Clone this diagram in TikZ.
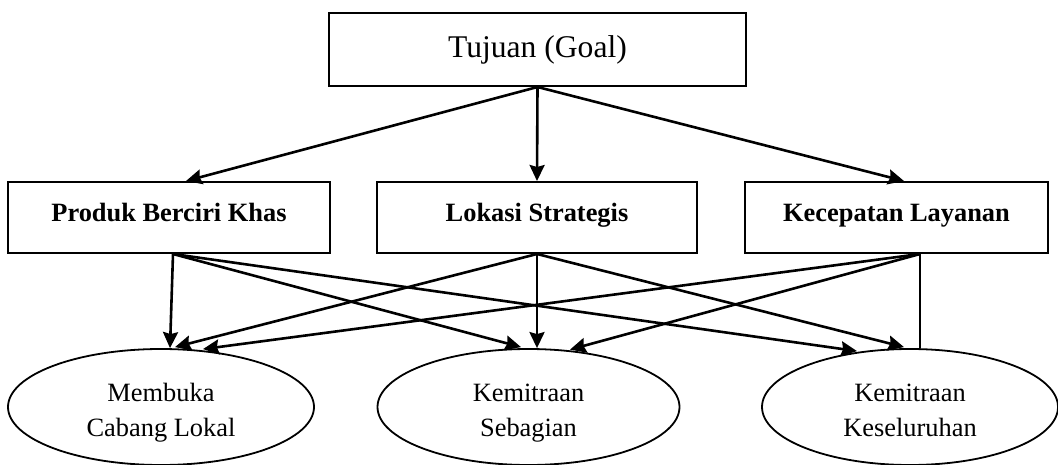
\documentclass[tikz,border=0pt]{standalone}
\usepackage{fontspec}
\setmainfont{Liberation Serif}
\usetikzlibrary{shapes.geometric,arrows.meta}
\newcommand{\toplinestrut}{\rule{0pt}{33.5pt}}
\begin{document}
\begin{tikzpicture}[x=1pt,y=1pt,
  boxst/.style={draw,line width=2pt,rectangle,inner sep=0pt,minimum height=71pt,
    font=\fontsize{26.4}{32}\selectfont\bfseries,text height=18pt,text depth=10pt},
  goalst/.style={draw,line width=2pt,rectangle,inner sep=0pt,minimum width=417pt,minimum height=73pt,
    font=\fontsize{31.6}{38}\selectfont},
  ellst/.style={draw,line width=1.8pt,ellipse,inner sep=0pt,minimum height=116pt,align=center,
    font=\fontsize{26.4}{35}\selectfont},
  arr/.style={line width=2.6pt,-{Stealth[length=16pt,width=15pt,inset=2pt]}},
  thinln/.style={line width=1.4pt}]
\useasboundingbox (0,0) rectangle (1058,-465);
\node[goalst] (goal) at (537.5,-49.5) {Tujuan (Goal)};
\node[boxst,minimum width=322pt] (pk) at (169,-217.5) {Produk Berciri Khas};
\node[boxst,minimum width=320pt] (ls) at (537,-217.5) {Lokasi Strategis};
\node[boxst,minimum width=303pt] (kl) at (896.5,-217.5) {Kecepatan Layanan};
\node[ellst,minimum width=306pt] (mcl) at (161,-407) {\toplinestrut Membuka\\Cabang Lokal\strut};
\node[ellst,minimum width=302pt] (ks) at (528.5,-407) {\toplinestrut Kemitraan\\Sebagian\strut};
\node[ellst,minimum width=296pt] (kk) at (910,-407) {\toplinestrut Kemitraan\\Keseluruhan\strut};
% top arrows
\draw[arr] (goal.south) -- ([xshift=17pt]pk.north);
\draw[arr] (goal.south) -- (ls.north);
\draw[arr] (goal.south) -- ([xshift=7.5pt]kl.north);
% from Produk
\coordinate (pkb) at ([xshift=4pt]pk.south);
\draw[arr] (pkb) -- ([xshift=9pt]mcl.north);
\draw[arr] (pkb) -- ([xshift=-7.5pt,yshift=1pt]ks.north);
\draw[arr] (pkb) -- ([xshift=-53pt,yshift=-3pt]kk.north);
% from Lokasi
\draw[arr] (ls.south) -- ([xshift=14pt,yshift=1pt]mcl.north);
\draw[arr] (ls.south) -- ([xshift=8.5pt]ks.north);
\draw[arr] (ls.south) -- ([xshift=-6pt,yshift=1pt]kk.north);
% from Kecepatan
\coordinate (klb) at ([xshift=23.5pt]kl.south);
\draw[arr] (klb) -- ([xshift=42pt,yshift=-1pt]mcl.north);
\draw[arr] (klb) -- ([xshift=41.5pt,yshift=-1.5pt]ks.north);
\draw[thinln] (klb) -- (klb |- kk.north);
\end{tikzpicture}
\end{document}
